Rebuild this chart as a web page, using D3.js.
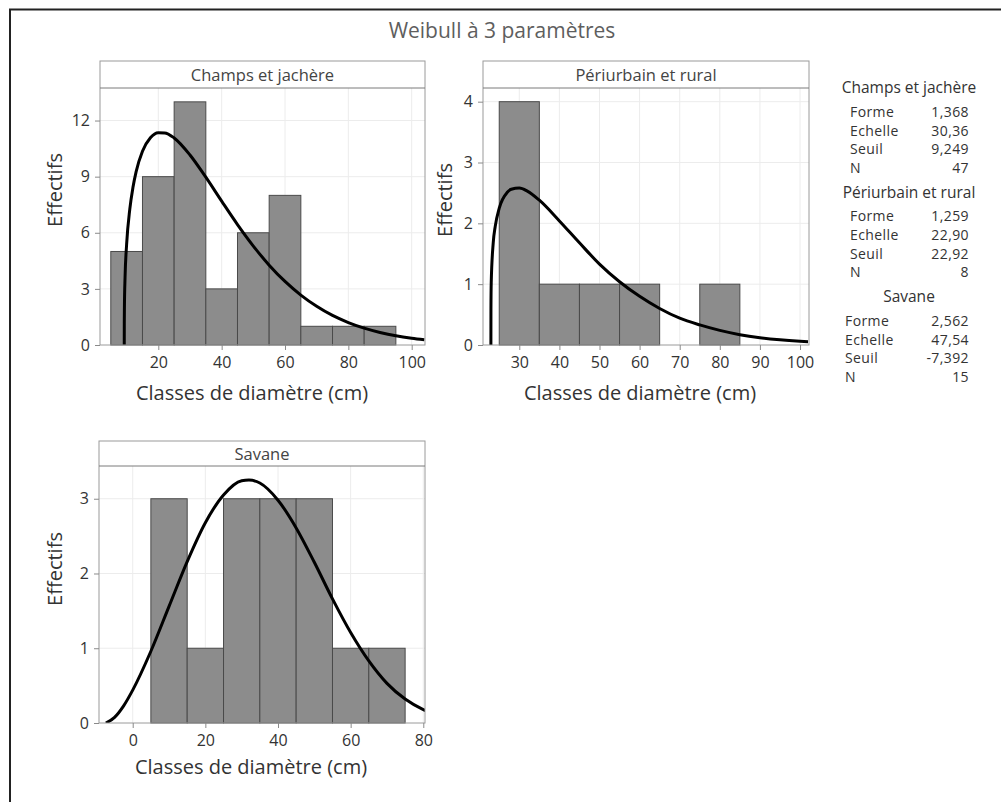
<!DOCTYPE html>
<html>
<head>
<meta charset="utf-8">
<script src="https://cdn.jsdelivr.net/npm/d3@7"></script>
<style>
  body { margin: 0; background: #fff; }
  text { font-family: 'Open Sans', 'Noto Sans', sans-serif; }
</style>
</head>
<body>
<svg id="chart" width="1001" height="802"></svg>
<script>
// --- data ------------------------------------------------------------
const binWidth = 10;

const champsBins = [5, 15, 25, 35, 45, 55, 65, 75, 85];
const champsCounts = [5, 9, 13, 3, 6, 8, 1, 1, 1];
const periBins = [25, 35, 45, 55, 65, 75];
const periCounts = [4, 1, 1, 1, 0, 1];
const savaneBins = [5, 15, 25, 35, 45, 55, 65];
const savaneCounts = [3, 1, 3, 3, 3, 1, 1];

// fitted curves (expected counts per class), read point by point
const champsCurveX = [9.249, 9.26, 9.3, 9.5, 10, 11, 12, 13, 15, 17.5, 20, 22, 25, 30, 35, 40, 45, 50, 55, 60, 65, 70, 75, 80, 85, 90, 95, 100, 104];
const champsCurveY = [0, 1.15, 2.02, 3.62, 5.39, 7.26, 8.43, 9.27, 10.36, 11.08, 11.35, 11.34, 11.07, 10.16, 8.97, 7.69, 6.44, 5.29, 4.27, 3.40, 2.67, 2.07, 1.58, 1.20, 0.90, 0.67, 0.49, 0.36, 0.28];
const periCurveX = [22.92, 22.93, 23, 23.5, 24, 25, 27, 28, 30, 32, 35, 40, 45, 50, 55, 60, 65, 70, 75, 80, 85, 90, 95, 100, 102];
const periCurveY = [0, 0.59, 1.02, 1.68, 1.95, 2.25, 2.51, 2.56, 2.58, 2.53, 2.38, 2.04, 1.68, 1.33, 1.04, 0.80, 0.60, 0.44, 0.33, 0.24, 0.17, 0.12, 0.085, 0.06, 0.052];
const savaneCurveX = [-7.392, -5, -2.5, 0, 5, 10, 15, 20, 25, 30, 32, 35, 40, 45, 50, 55, 60, 65, 70, 75, 80, 81];
const savaneCurveY = [0, 0.076, 0.23, 0.44, 0.96, 1.56, 2.16, 2.68, 3.05, 3.24, 3.25, 3.21, 2.98, 2.61, 2.15, 1.66, 1.21, 0.83, 0.53, 0.32, 0.18, 0.16];

const champsXTicks = [20, 40, 60, 80, 100];
const champsYTicks = [0, 3, 6, 9, 12];
const periXTicks = [30, 40, 50, 60, 70, 80, 90, 100];
const periYTicks = [0, 1, 2, 3, 4];
const savaneXTicks = [0, 20, 40, 60, 80];
const savaneYTicks = [0, 1, 2, 3];

const groupNames = ['Champs et jachère', 'Périurbain et rural', 'Savane'];
const statLabels = ['Forme', 'Echelle', 'Seuil', 'N'];
const champsStats = ['1,368', '30,36', '9,249', '47'];
const periStats = ['1,259', '22,90', '22,92', '8'];
const savaneStats = ['2,562', '47,54', '-7,392', '15'];

const chartTitle = 'Weibull à 3 paramètres';
const xTitle = 'Classes de diamètre (cm)';
const yTitle = 'Effectifs';

// --- layout ---------------------------------------------------------
const panels = [
  { name: groupNames[0], bins: champsBins, counts: champsCounts, cx: champsCurveX, cy: champsCurveY,
    xTicks: champsXTicks, yTicks: champsYTicks, xDomain: [1.59, 104.2], yMax: 13.74,
    left: 100, right: 425, top: 61, strip: 88, bottom: 345,
    yLabX: 55, yLabY: 190, xLabX: 252, xLabY: 393 },
  { name: groupNames[1], bins: periBins, counts: periCounts, cx: periCurveX, cy: periCurveY,
    xTicks: periXTicks, yTicks: periYTicks, xDomain: [20.95, 102.24], yMax: 4.225,
    left: 483, right: 809, top: 61, strip: 88, bottom: 345,
    yLabX: 445, yLabY: 200, xLabX: 640, xLabY: 393 },
  { name: groupNames[2], bins: savaneBins, counts: savaneCounts, cx: savaneCurveX, cy: savaneCurveY,
    xTicks: savaneXTicks, yTicks: savaneYTicks, xDomain: [-9.28, 80.47], yMax: 3.438,
    left: 99, right: 425, top: 441, strip: 466, bottom: 723,
    yLabX: 55, yLabY: 569, xLabX: 251, xLabY: 767 }
];

const svg = d3.select('#chart');

// outer frame of the figure
svg.append('line').attr('x1', 9).attr('x2', 1001).attr('y1', 9.5).attr('y2', 9.5)
  .attr('stroke', '#222').attr('stroke-width', 2);
svg.append('line').attr('x1', 10).attr('x2', 10).attr('y1', 9).attr('y2', 802)
  .attr('stroke', '#222').attr('stroke-width', 2);

// title
svg.append('text')
  .attr('x', 502).attr('y', 31).attr('dy', '0.35em')
  .attr('text-anchor', 'middle')
  .attr('font-size', 21).attr('fill', '#5e5e5e')
  .text(chartTitle);

panels.forEach(function (p, i) {
  var x = d3.scaleLinear().domain(p.xDomain).range([p.left, p.right]);
  var y = d3.scaleLinear().domain([0, p.yMax]).range([p.bottom, p.strip]);
  var g = svg.append('g');

  // grid lines
  g.selectAll('line.gx').data(p.xTicks).enter().append('line')
    .attr('x1', d => x(d)).attr('x2', d => x(d))
    .attr('y1', p.strip).attr('y2', p.bottom)
    .attr('stroke', '#ececec').attr('stroke-width', 1);
  g.selectAll('line.gy').data(p.yTicks.filter(d => d > 0)).enter().append('line')
    .attr('x1', p.left).attr('x2', p.right)
    .attr('y1', d => y(d)).attr('y2', d => y(d))
    .attr('stroke', '#ececec').attr('stroke-width', 1);

  // bars
  var bars = p.bins.map(function (b, j) { return { x0: b, n: p.counts[j] }; })
    .filter(d => d.n > 0);
  g.selectAll('rect.bar').data(bars).enter().append('rect')
    .attr('x', d => x(d.x0))
    .attr('width', d => x(d.x0 + binWidth) - x(d.x0))
    .attr('y', d => y(d.n))
    .attr('height', d => y(0) - y(d.n))
    .attr('fill', '#8c8c8c')
    .attr('stroke', '#4a4a4a').attr('stroke-width', 1);

  // fitted curve, clipped to the plot area
  var clipId = 'clip' + i;
  svg.append('clipPath').attr('id', clipId).append('rect')
    .attr('x', p.left).attr('y', p.strip)
    .attr('width', p.right - p.left).attr('height', p.bottom - p.strip);
  var line = d3.line()
    .x(d => x(d[0]))
    .y(d => y(d[1]))
    .curve(d3.curveMonotoneX);
  g.append('path')
    .datum(p.cx.map((v, j) => [v, p.cy[j]]))
    .attr('clip-path', 'url(#' + clipId + ')')
    .attr('d', line)
    .attr('fill', 'none')
    .attr('stroke', '#000').attr('stroke-width', 3);

  // panel frame and strip
  g.append('rect')
    .attr('x', p.left).attr('y', p.top)
    .attr('width', p.right - p.left).attr('height', p.bottom - p.top)
    .attr('fill', 'none').attr('stroke', '#9a9a9a');
  g.append('line')
    .attr('x1', p.left).attr('x2', p.right)
    .attr('y1', p.strip).attr('y2', p.strip)
    .attr('stroke', '#7a7a7a');
  g.append('text')
    .attr('x', (p.left + p.right) / 2).attr('y', (p.top + p.strip) / 2 + 1)
    .attr('dy', '0.35em').attr('text-anchor', 'middle')
    .attr('font-size', 16.5).attr('fill', '#444')
    .text(p.name);

  // axes
  var xAxis = g.append('g')
    .attr('transform', 'translate(0,' + p.bottom + ')')
    .call(d3.axisBottom(x).tickValues(p.xTicks).tickFormat(d3.format('d'))
      .tickSize(5).tickPadding(7));
  var yAxis = g.append('g')
    .attr('transform', 'translate(' + p.left + ',0)')
    .call(d3.axisLeft(y).tickValues(p.yTicks).tickFormat(d3.format('d'))
      .tickSize(5).tickPadding(5));
  [xAxis, yAxis].forEach(function (a) {
    a.select('.domain').remove();
    a.selectAll('.tick line').attr('stroke', '#8a8a8a');
    a.selectAll('.tick text')
      .attr('font-family', "'Open Sans', sans-serif")
      .attr('font-size', 16).attr('fill', '#333');
  });

  // axis titles
  g.append('text')
    .attr('transform', 'translate(' + p.yLabX + ',' + p.yLabY + ') rotate(-90)')
    .attr('dy', '0.35em').attr('text-anchor', 'middle')
    .attr('font-size', 20).attr('fill', '#333')
    .text(yTitle);
  g.append('text')
    .attr('x', p.xLabX).attr('y', p.xLabY)
    .attr('dy', '0.35em').attr('text-anchor', 'middle')
    .attr('font-size', 20).attr('fill', '#333')
    .text(xTitle);
});

// parameter table on the right
var allStats = [champsStats, periStats, savaneStats];
var labelX = [850, 850, 845];
groupNames.forEach(function (name, i) {
  var hy = 88 + i * 104.5;
  var t = svg.append('g');
  t.append('text')
    .attr('x', 909).attr('y', hy).attr('dy', '0.35em')
    .attr('text-anchor', 'middle')
    .attr('font-size', 15.5).attr('fill', '#333')
    .text(name);
  statLabels.forEach(function (lab, j) {
    var ry = hy + 24 + j * 18.6;
    t.append('text')
      .attr('x', labelX[i]).attr('y', ry).attr('dy', '0.35em')
      .attr('font-size', 14).attr('letter-spacing', 0.4).attr('fill', '#333')
      .text(lab);
    t.append('text')
      .attr('x', 969).attr('y', ry).attr('dy', '0.35em')
      .attr('text-anchor', 'end')
      .attr('font-size', 14).attr('letter-spacing', 0.4).attr('fill', '#333')
      .text(allStats[i][j]);
  });
});
</script>
</body>
</html>
